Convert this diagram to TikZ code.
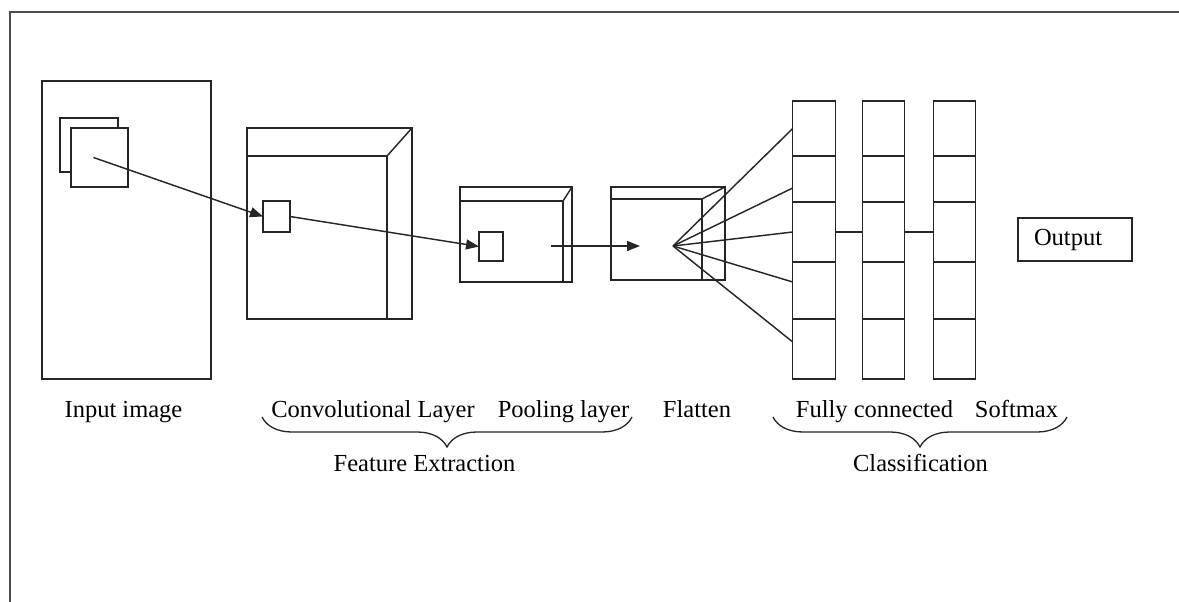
\documentclass[tikz,border=0pt]{standalone}
\usepackage{fontspec}
\setmainfont{Liberation Serif}
\usetikzlibrary{arrows.meta,decorations.pathreplacing}
\begin{document}
\begin{tikzpicture}[x=1pt,y=-1pt,
  box/.style={draw=black!85,line width=1.45pt,inner sep=0pt,outer sep=0pt},
  wire/.style={draw=black!85,line width=1.45pt},
  arr/.style={wire,-{Triangle[length=13pt,width=10pt]}},
  lbl/.style={font=\fontsize{24.5}{29}\selectfont,anchor=base,inner sep=0pt},
  brc/.style={wire,line width=1.3pt,decorate,decoration={brace,mirror,amplitude=30pt}}]
\useasboundingbox (0,0) rectangle (1179,602);
% frame
\draw[line width=1.8pt,black!70] (10,602) -- (10,12) -- (1179,12);

% input image
\node[box,minimum width=169pt,minimum height=298pt] (input) at (126.5,230) {};
\node[box,minimum width=58pt,minimum height=54pt] (back) at (89,145) {};
\node[box,fill=white,minimum width=57pt,minimum height=59pt] (inner) at (99.5,157.5) {};

% convolutional layer
\node[box,minimum width=165pt,minimum height=191pt] (conv) at (329.5,223.5) {};
\node[box,minimum width=140pt,minimum height=163pt] (convf) at (317,237.5) {};
\draw[wire] (convf.north east) -- (conv.north east);
\node[box,minimum width=27pt,minimum height=31pt] (convsq) at (276.5,216.5) {};

% pooling layer
\node[box,minimum width=112pt,minimum height=95pt] (pool) at (516,234.5) {};
\node[box,minimum width=103pt,minimum height=81pt] (poolf) at (511.5,241.5) {};
\draw[wire] (poolf.north east) -- (pool.north east);
\node[box,minimum width=24pt,minimum height=29pt] (poolsq) at (491,246.5) {};

% flatten
\node[box,minimum width=114pt,minimum height=93pt] (flat) at (668,233.5) {};
\node[box,minimum width=91pt,minimum height=81pt] (flatf) at (656.5,239.5) {};
\draw[wire] (flatf.north east) -- (flat.north east);
\coordinate (pa) at (551,246);
\coordinate (pb) at (640,246);
\coordinate (fan) at (673,246);

% fully connected / softmax columns
\foreach \c/\x in {1/814,2/883.5,3/954.5}{
  \foreach \r/\t/\b in {a/101/156,b/156/202,c/202/262,d/262/319,e/319/379}{
    \node[box,minimum width=42.5pt,minimum height={(\b-\t)*1pt}] (c\c\r) at (\x,{(\t+\b)/2}) {};
  }
}

% output
\node[box,anchor=west,inner xsep=16pt,text width=82pt,align=left,minimum height=43pt,
      font=\fontsize{24.5}{29}\selectfont] (out) at (1018,239.5) {Output};

% connectors
\draw[arr] ([xshift=-6pt]inner.center) -- (convsq.west);
\draw[arr] (convsq.east) -- (poolsq.west);
\draw[arr] (pa) -- (pb);
\draw[wire] (fan) -- (c1a.west);
\draw[wire] (fan) -- ([yshift=-9pt]c1b.west);
\draw[wire] (fan) -- (c1c.west);
\draw[wire] (fan) -- ([yshift=8.5pt]c1d.west);
\draw[wire] (fan) -- ([yshift=7pt]c1e.west);
\draw[wire] (c1c.east) -- (c2c.west);
\draw[wire] (c2c.east) -- (c3c.west);

% labels
\node[lbl] (tin) at (123.5,417) {Input image};
\node[lbl] (tconv) at (373,417) {Convolutional Layer};
\node[lbl] (tpool) at (563.5,417) {Pooling layer};
\node[lbl] (tflat) at (697,417) {Flatten};
\node[lbl] (tfc) at (874.5,417) {Fully connected};
\node[lbl] (tsoft) at (1016.5,417) {Softmax};
\node[lbl] (tfe) at (424.5,471) {Feature Extraction};
\node[lbl] (tcl) at (920.5,471) {Classification};

% braces
\coordinate (b1l) at (262,417);
\coordinate (b1r) at (632,417);
\coordinate (b2l) at (773,417);
\coordinate (b2r) at (1067,417);
\draw[brc] (b1l) -- (b1r);
\draw[brc] (b2l) -- (b2r);
\end{tikzpicture}
\end{document}
